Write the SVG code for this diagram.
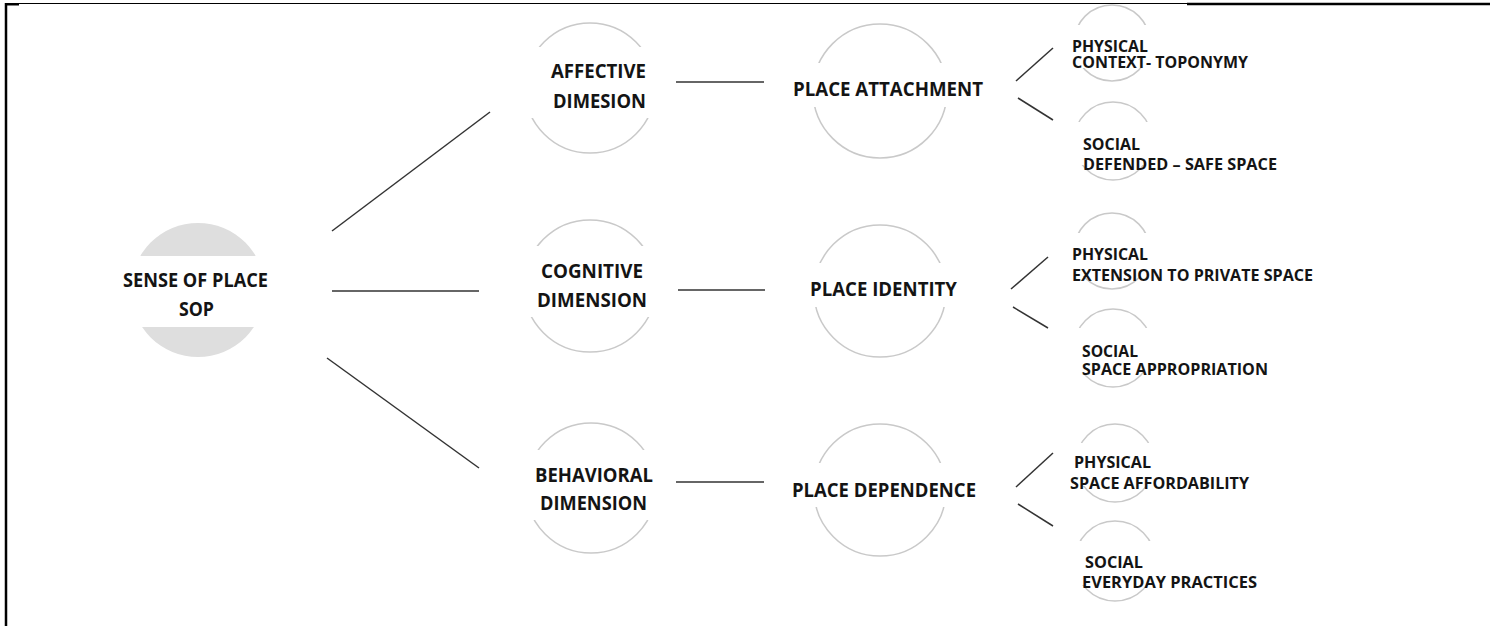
<svg xmlns="http://www.w3.org/2000/svg" width="1496" height="626" viewBox="0 0 1496 626">
  <style>
    .ring { fill: none; stroke: #c9c9c9; stroke-width: 1.5; }
    .band { fill: #ffffff; }
    .lbl { font-family: "Open Sans", Lato, "Liberation Sans", sans-serif; font-weight: 700; fill: #141414; }
    .big { font-size: 19.5px; }
    .small { font-size: 16.5px; }
    .link { stroke: #333333; stroke-width: 1.5; fill: none; }
    .frame { stroke: #000000; fill: none; }
  </style>

  <rect width="1496" height="626" fill="#ffffff"/>

  <!-- page frame -->
  <g id="frame">
    <line class="frame" x1="6" y1="3.5" x2="1187" y2="3.5" stroke-width="1.2"/>
    <line class="frame" x1="1187" y1="4" x2="1490" y2="4" stroke-width="2.5"/>
    <line class="frame" x1="6" y1="4.5" x2="19" y2="4.5" stroke-width="2"/>
    <line class="frame" x1="6" y1="3" x2="6" y2="626" stroke-width="2.5"/>
  </g>

  <!-- connectors -->
  <g id="connectors">
    <line class="link" x1="332" y1="231" x2="490" y2="112"/>
    <line class="link" x1="332" y1="291" x2="479" y2="291"/>
    <line class="link" x1="327" y1="358" x2="479" y2="468"/>

    <line class="link" x1="676" y1="82" x2="764" y2="82"/>
    <line class="link" x1="678" y1="290" x2="765" y2="290"/>
    <line class="link" x1="676" y1="482" x2="764" y2="482"/>

    <line class="link" x1="1016" y1="81" x2="1053" y2="48"/>
    <line class="link" x1="1018" y1="98" x2="1053" y2="120"/>
    <line class="link" x1="1011" y1="289" x2="1048" y2="257"/>
    <line class="link" x1="1013" y1="307" x2="1048" y2="328"/>
    <line class="link" x1="1016" y1="487" x2="1053" y2="453"/>
    <line class="link" x1="1018" y1="504" x2="1053" y2="526"/>
  </g>

  <!-- root node -->
  <g id="node-sop">
    <circle cx="198" cy="290" r="67" fill="#dedede"/>
    <rect class="band" x="128" y="256" width="140" height="71"/>
    <text class="lbl big" x="123" y="287" textLength="145" lengthAdjust="spacingAndGlyphs">SENSE OF PLACE</text>
    <text class="lbl big" x="179" y="316" textLength="35" lengthAdjust="spacingAndGlyphs">SOP</text>
  </g>

  <!-- dimensions -->
  <g id="node-affective">
    <circle class="ring" cx="590" cy="88" r="65"/>
    <rect class="band" x="522" y="47" width="136" height="71"/>
    <text class="lbl big" x="551" y="78" textLength="95" lengthAdjust="spacingAndGlyphs">AFFECTIVE</text>
    <text class="lbl big" x="553" y="108" textLength="93" lengthAdjust="spacingAndGlyphs">DIMESION</text>
  </g>

  <g id="node-cognitive">
    <circle class="ring" cx="590" cy="286" r="66"/>
    <rect class="band" x="521" y="246" width="138" height="71"/>
    <text class="lbl big" x="541" y="278" textLength="102" lengthAdjust="spacingAndGlyphs">COGNITIVE</text>
    <text class="lbl big" x="537" y="307" textLength="110" lengthAdjust="spacingAndGlyphs">DIMENSION</text>
  </g>

  <g id="node-behavioral">
    <circle class="ring" cx="591" cy="488" r="65"/>
    <rect class="band" x="523" y="450" width="136" height="70"/>
    <text class="lbl big" x="535" y="482" textLength="118" lengthAdjust="spacingAndGlyphs">BEHAVIORAL</text>
    <text class="lbl big" x="540" y="510" textLength="107" lengthAdjust="spacingAndGlyphs">DIMENSION</text>
  </g>

  <!-- place constructs -->
  <g id="node-attachment">
    <circle class="ring" cx="880" cy="91" r="67"/>
    <rect class="band" x="810" y="63" width="140" height="44"/>
    <text class="lbl big" x="793" y="96" textLength="190" lengthAdjust="spacingAndGlyphs">PLACE ATTACHMENT</text>
  </g>

  <g id="node-identity">
    <circle class="ring" cx="880" cy="291" r="66"/>
    <rect class="band" x="811" y="263" width="138" height="44"/>
    <text class="lbl big" x="810" y="296" textLength="147" lengthAdjust="spacingAndGlyphs">PLACE IDENTITY</text>
  </g>

  <g id="node-dependence">
    <circle class="ring" cx="880" cy="490" r="66"/>
    <rect class="band" x="811" y="463" width="138" height="44"/>
    <text class="lbl big" x="792" y="497" textLength="184" lengthAdjust="spacingAndGlyphs">PLACE DEPENDENCE</text>
  </g>

  <!-- attachment: physical / social -->
  <g id="node-attachment-physical">
    <circle class="ring" cx="1112" cy="43" r="38"/>
    <rect class="band" x="1070" y="25" width="84" height="43"/>
    <text class="lbl small" x="1072" y="52" textLength="76" lengthAdjust="spacingAndGlyphs">PHYSICAL</text>
    <text class="lbl small" x="1072" y="68" textLength="176" lengthAdjust="spacingAndGlyphs">CONTEXT- TOPONYMY</text>
  </g>

  <g id="node-attachment-social">
    <circle class="ring" cx="1113" cy="141" r="39"/>
    <rect class="band" x="1070" y="122" width="86" height="43"/>
    <text class="lbl small" x="1083" y="150" textLength="57" lengthAdjust="spacingAndGlyphs">SOCIAL</text>
    <text class="lbl small" x="1083" y="170" textLength="194" lengthAdjust="spacingAndGlyphs">DEFENDED – SAFE SPACE</text>
  </g>

  <!-- identity: physical / social -->
  <g id="node-identity-physical">
    <circle class="ring" cx="1112" cy="251" r="38"/>
    <rect class="band" x="1070" y="233" width="84" height="43"/>
    <text class="lbl small" x="1072" y="260" textLength="76" lengthAdjust="spacingAndGlyphs">PHYSICAL</text>
    <text class="lbl small" x="1072" y="281" textLength="241" lengthAdjust="spacingAndGlyphs">EXTENSION TO PRIVATE SPACE</text>
  </g>

  <g id="node-identity-social">
    <circle class="ring" cx="1113" cy="348" r="39"/>
    <rect class="band" x="1070" y="328" width="86" height="44"/>
    <text class="lbl small" x="1082" y="357" textLength="56" lengthAdjust="spacingAndGlyphs">SOCIAL</text>
    <text class="lbl small" x="1082" y="375" textLength="186" lengthAdjust="spacingAndGlyphs">SPACE APPROPRIATION</text>
  </g>

  <!-- dependence: physical / social -->
  <g id="node-dependence-physical">
    <circle class="ring" cx="1115" cy="463" r="39"/>
    <rect class="band" x="1072" y="443" width="86" height="43"/>
    <text class="lbl small" x="1074" y="468" textLength="77" lengthAdjust="spacingAndGlyphs">PHYSICAL</text>
    <text class="lbl small" x="1070" y="489" textLength="179" lengthAdjust="spacingAndGlyphs">SPACE AFFORDABILITY</text>
  </g>

  <g id="node-dependence-social">
    <circle class="ring" cx="1115" cy="561" r="40"/>
    <rect class="band" x="1071" y="541" width="88" height="44"/>
    <text class="lbl small" x="1085" y="568" textLength="58" lengthAdjust="spacingAndGlyphs">SOCIAL</text>
    <text class="lbl small" x="1082" y="588" textLength="175" lengthAdjust="spacingAndGlyphs">EVERYDAY PRACTICES</text>
  </g>
</svg>
